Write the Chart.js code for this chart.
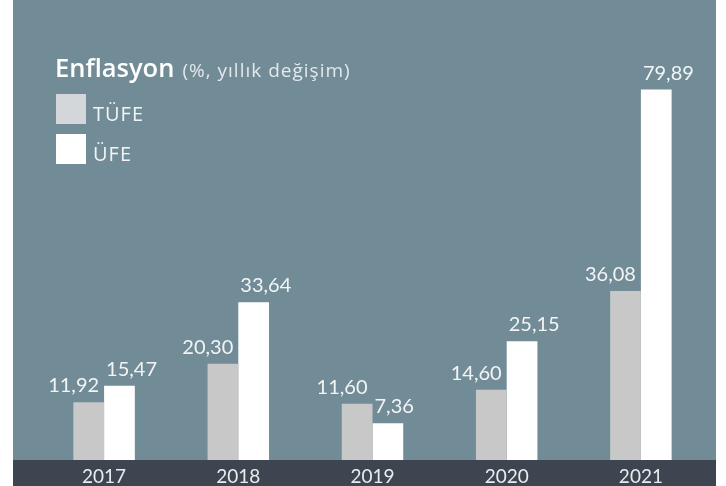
<!DOCTYPE html>
<html lang="tr">
<head>
<meta charset="utf-8">
<script src="https://cdn.jsdelivr.net/npm/chart.js@4.4.1/dist/chart.umd.min.js"></script>
<style>
  html, body { margin: 0; padding: 0; background: #ffffff; }
  #panel { position: absolute; left: 13px; top: 0; width: 703px; height: 486px; background: #718c97; }
</style>
</head>
<body>
<div id="panel"><canvas id="chart"></canvas></div>
<script>
// data
const years = ['2017', '2018', '2019', '2020', '2021'];
const tufe = [11.92, 20.30, 11.60, 14.60, 36.08];
const ufe = [15.47, 33.64, 7.36, 25.15, 79.89];
const seriesNames = ['TÜFE', 'ÜFE'];
const titleMain = 'Enflasyon';
const titleSub = '(%, yıllık değişim)';

const Y_MIN = -0.65;
const Y_MAX = 80;

const fmt = v => v.toFixed(2).replace('.', ',');

// dark strip behind the year labels
const bandPlugin = {
    id: 'band',
    beforeDraw(chart) {
        const { ctx, chartArea, width, height } = chart;
        ctx.save();
        ctx.fillStyle = '#3d4650';
        ctx.fillRect(0, chartArea.bottom, width, height - chartArea.bottom);
        ctx.restore();
    }
};

// values above the bars
const valuePlugin = {
    id: 'values',
    afterDatasetsDraw(chart) {
        const ctx = chart.ctx;
        ctx.save();
        ctx.font = '20px Lato, "Open Sans", sans-serif';
        ctx.fillStyle = '#f3f4f5';
        ctx.textBaseline = 'alphabetic';
        chart.data.datasets.forEach((ds, i) => {
            chart.getDatasetMeta(i).data.forEach((bar, j) => {
                const w = bar.width;
                if (i === 0) {
                    ctx.textAlign = 'right';
                    ctx.fillText(fmt(ds.data[j]), bar.x + w / 2 - 5, bar.y - 10);
                } else {
                    ctx.textAlign = 'left';
                    ctx.fillText(fmt(ds.data[j]), bar.x - w / 2 + 2, bar.y - 10);
                }
            });
        });
        ctx.restore();
    }
};

// title and legend in the top left corner
const headerPlugin = {
    id: 'header',
    afterDraw(chart) {
        const ctx = chart.ctx;
        ctx.save();
        ctx.textAlign = 'left';
        ctx.textBaseline = 'alphabetic';
        ctx.fillStyle = '#ffffff';
        ctx.font = '600 25.5px "Open Sans", sans-serif';
        ctx.fillText(titleMain, 42, 77);
        const w = ctx.measureText(titleMain).width;
        ctx.fillStyle = '#e4e9eb';
        ctx.font = '19px "Open Sans", sans-serif';
        ctx.letterSpacing = '1px';
        ctx.fillText(titleSub, 42 + w + 8, 77);

        const swatches = ['#d4d7d9', '#ffffff'];
        ctx.font = '20px "Open Sans", sans-serif';
        ctx.letterSpacing = '1px';
        chart.data.datasets.forEach((ds, i) => {
            const top = 94 + i * 40;
            ctx.fillStyle = swatches[i];
            ctx.fillRect(43, top, 30, 30);
            ctx.fillStyle = '#f3f4f5';
            ctx.fillText(ds.label, 80, top + 27);
        });
        ctx.restore();
    }
};

new Chart(document.getElementById('chart'), {
    type: 'bar',
    data: {
        labels: years,
        datasets: [
            { label: seriesNames[0], data: tufe, backgroundColor: '#c8c8c8', base: Y_MIN },
            { label: seriesNames[1], data: ufe, backgroundColor: '#ffffff', base: Y_MIN }
        ]
    },
    options: {
        responsive: true,
        maintainAspectRatio: false,
        animation: false,
        layout: { padding: { left: 24, right: 8, top: 89, bottom: 0 } },
        datasets: { bar: { barPercentage: 1, categoryPercentage: 0.458 } },
        plugins: {
            legend: { display: false },
            tooltip: { enabled: false }
        },
        scales: {
            x: {
                border: { display: false },
                grid: { display: false, drawTicks: false },
                afterFit(scale) { scale.height = 26; },
                ticks: {
                    color: '#e9ecee',
                    padding: 5,
                    font: { family: 'Lato, "Open Sans", sans-serif', size: 19 }
                }
            },
            y: {
                display: false,
                min: Y_MIN,
                max: Y_MAX
            }
        }
    },
    plugins: [bandPlugin, valuePlugin, headerPlugin]
});
</script>
</body>
</html>
